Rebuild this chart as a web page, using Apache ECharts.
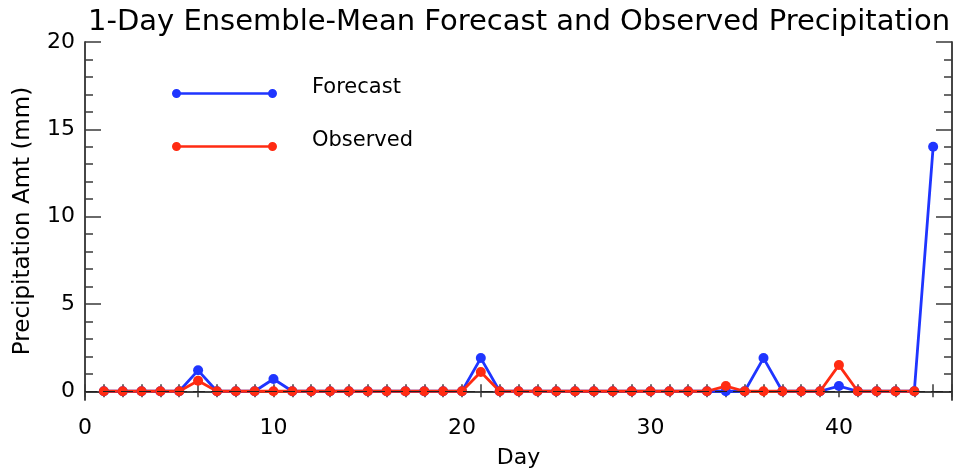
<!DOCTYPE html>
<html>
<head>
<meta charset="utf-8">
<script src="https://cdn.jsdelivr.net/npm/echarts@6/dist/echarts.min.js"></script>
<style>
  html, body { margin: 0; padding: 0; background: #fff; }
  #chart { width: 968px; height: 468px; }
</style>
</head>
<body>
<div id="chart"></div>
<script>
// days 1..45
const days = [];
for (let d = 1; d <= 45; d++) days.push(d);

// 1-day ensemble-mean forecast (mm), days 1..45
const forecast = [0, 0, 0, 0, 0, 1.2, 0, 0, 0, 0.7,
                  0, 0, 0, 0, 0, 0, 0, 0, 0, 0,
                  1.9, 0, 0, 0, 0, 0, 0, 0, 0, 0,
                  0, 0, 0, 0, 0, 1.9, 0, 0, 0, 0.3,
                  0, 0, 0, 0, 14.0];
// observed (mm), days 1..44
const observed = [0, 0, 0, 0, 0, 0.6, 0, 0, 0, 0,
                  0, 0, 0, 0, 0, 0, 0, 0, 0, 0,
                  1.1, 0, 0, 0, 0, 0, 0, 0, 0, 0,
                  0, 0, 0, 0.3, 0, 0, 0, 0, 0, 1.5,
                  0, 0, 0, 0];

const xLabels = [0, 10, 20, 30, 40];
const xTicks = [];
for (let i = 0; i <= 46; i++) xTicks.push(i);
const yMajor = [0, 5, 10, 15, 20];
const yMinor = [];
for (let i = 1; i < 20; i++) if (i % 5 !== 0) yMinor.push(i);

const blue = '#1f35ff';
const red = '#ff2b12';
const frame = '#3a3a3a';
const font = 'DejaVu Sans';

const chart = echarts.init(document.getElementById('chart'));

function yAx(pos, ticks, len, labels) {
    return {
        type: 'value', position: pos, min: -0.5, max: 20,
        axisLine: { show: true, lineStyle: { color: frame, width: 1.5 } },
        axisTick: { show: true, inside: true, length: len, customValues: ticks,
                    lineStyle: { color: frame, width: 1.5 } },
        axisLabel: labels ? { show: true, customValues: yMajor, margin: 10,
                              color: '#000', fontSize: 22, fontFamily: font }
                          : { show: false },
        splitLine: { show: false }
    };
}

const legendIcon = 'path://M0,4.5A4.5,4.5,0,1,1,9,4.5A4.5,4.5,0,1,1,0,4.5Z' +
                   'M96,4.5A4.5,4.5,0,1,1,105,4.5A4.5,4.5,0,1,1,96,4.5Z' +
                   'M8,3.25L97,3.25L97,5.75L8,5.75Z';

const option = {
    animation: false,
    backgroundColor: '#fff',
    title: {
        text: '1-Day Ensemble-Mean Forecast and Observed Precipitation',
        left: 514, top: 3, textAlign: 'center',
        textStyle: { fontFamily: font, fontSize: 29, fontWeight: 'normal', color: '#000' }
    },
    legend: {
        orient: 'vertical', left: 172, top: 77, padding: 0,
        itemWidth: 105, itemHeight: 9, itemGap: 32,
        icon: legendIcon,
        itemStyle: { borderWidth: 0 },
        data: ['Forecast', 'Observed'],
        formatter: '{t|{name}}',
        textStyle: {
            fontFamily: font, fontSize: 21, color: '#000', padding: [0, 0, 0, 30],
            rich: { t: { fontFamily: font, fontSize: 21, color: '#000', padding: [0, 0, 12, 0] } }
        }
    },
    grid: { left: 85, top: 42, width: 867, height: 358, containLabel: false, outerBoundsMode: 'none' },
    xAxis: [
        {
            type: 'value', position: 'bottom', min: 0, max: 46,
            name: 'Day', nameLocation: 'middle', nameGap: 47,
            nameTextStyle: { fontFamily: font, fontSize: 22, color: '#000' },
            axisLine: { show: true, lineStyle: { color: frame, width: 1.5 } },
            axisTick: { show: true, inside: true, length: 7, customValues: xTicks,
                        lineStyle: { color: frame, width: 1.5 } },
            axisLabel: { show: true, customValues: xLabels, margin: 17,
                         color: '#000', fontSize: 22, fontFamily: font },
            splitLine: { show: false }
        },
        {
            type: 'value', position: 'top', min: 0, max: 46,
            axisLine: { show: true, lineStyle: { color: frame, width: 1.5 } },
            axisTick: { show: true, inside: true, length: 6, customValues: xTicks,
                        lineStyle: { color: frame, width: 1.5 } },
            axisLabel: { show: false },
            splitLine: { show: false }
        }
    ],
    yAxis: [
        Object.assign(yAx('left', yMajor, 16, true), {
            name: 'Precipitation Amt (mm)', nameLocation: 'middle', nameGap: 50,
            nameTextStyle: { fontFamily: font, fontSize: 23, color: '#000' }
        }),
        yAx('left', yMinor, 8, false),
        yAx('right', yMajor, 16, false),
        yAx('right', yMinor, 8, false)
    ],
    series: [
        {
            name: 'zero', type: 'line', data: [], silent: true, symbol: 'none',
            markLine: {
                silent: true, symbol: 'none', label: { show: false },
                lineStyle: { color: '#222', width: 1, type: [12, 6] },
                data: [{ yAxis: 0 }]
            }
        },
        {
            name: 'Forecast', type: 'line',
            data: days.map((d, i) => [d, forecast[i]]),
            symbol: 'circle', symbolSize: 10,
            itemStyle: { color: blue },
            lineStyle: { color: blue, width: 2.8 }
        },
        {
            name: 'Observed', type: 'line',
            data: observed.map((v, i) => [days[i], v]),
            symbol: 'circle', symbolSize: 10,
            itemStyle: { color: red },
            lineStyle: { color: red, width: 2.8 }
        }
    ]
};

chart.setOption(option);
</script>
</body>
</html>
